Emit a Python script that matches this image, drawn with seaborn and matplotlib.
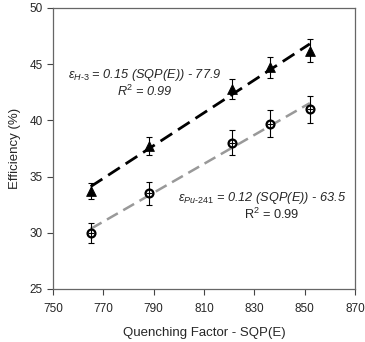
import numpy as np
import pandas as pd
import seaborn as sns
import matplotlib
matplotlib.use('Agg')
import matplotlib.pyplot as plt

# values
sqp = [765, 788, 821, 836, 852]
eff_h3 = [33.7, 37.7, 42.8, 44.7, 46.2]
err_h3 = [0.7, 0.8, 0.9, 0.9, 1.0]
eff_pu = [30.0, 33.5, 38.0, 39.7, 41.0]
err_pu = [0.9, 1.0, 1.1, 1.2, 1.2]

df = pd.DataFrame({'sqp': sqp, 'h3': eff_h3, 'pu': eff_pu})

sns.set_style('ticks')
plt.rcParams['font.family'] = ['Liberation Sans', 'DejaVu Sans']
plt.rcParams['mathtext.fontset'] = 'custom'
plt.rcParams['mathtext.rm'] = 'Liberation Sans'
plt.rcParams['mathtext.it'] = 'Liberation Sans:italic'

fig = plt.figure(figsize=(3.65, 3.42), dpi=100)
ax = fig.add_axes([0.145, 0.155, 0.828, 0.822])

# trend lines
sns.regplot(data=df, x='sqp', y='h3', ax=ax, scatter=False, ci=None,
            line_kws=dict(color='black', lw=2, ls=(0, (5, 2.5))))
sns.regplot(data=df, x='sqp', y='pu', ax=ax, scatter=False, ci=None,
            line_kws=dict(color='#999999', lw=1.8, ls=(0, (5, 2.5))))

# error bars
ax.errorbar(sqp, eff_h3, yerr=err_h3, fmt='none', ecolor='black',
            elinewidth=0.8, capsize=2, capthick=0.8, zorder=4)
ax.errorbar(sqp, eff_pu, yerr=err_pu, fmt='none', ecolor='black',
            elinewidth=0.8, capsize=2, capthick=0.8, zorder=6)

# markers
sns.scatterplot(data=df, x='sqp', y='h3', ax=ax, marker='^', color='black',
                s=50, edgecolor='black', zorder=5)
sns.scatterplot(data=df, x='sqp', y='pu', ax=ax, marker='o', color='white',
                s=32, edgecolor='black', linewidth=1.6, zorder=5)
sns.scatterplot(data=df, x='sqp', y='pu', ax=ax, marker='_', color='black',
                s=14, linewidth=0.8, zorder=6)

ax.set_xlim(750, 870)
ax.set_ylim(25, 50)
ax.set_xticks(range(750, 871, 20))
ax.set_yticks(range(25, 51, 5))
ax.set_xlabel('Quenching Factor - SQP(E)', fontsize=9.5, labelpad=9)
ax.set_ylabel('Efficiency (%)', fontsize=9.5, labelpad=6)
ax.tick_params(labelsize=8.5, length=4, width=0.8, color='#444444', direction='out')
ax.tick_params(axis='x', pad=6)
for sp in ax.spines.values():
    sp.set_visible(True)
    sp.set_color('#666666')
    sp.set_linewidth(0.9)

# equations
ax.text(786.5, 44.0, r'$ε_{H\text{-}3}$ = 0.15 (SQP(E)) - 77.9',
        ha='center', va='center', fontsize=9.2, style='italic')
ax.text(786.5, 42.55, 'R$^2$ = 0.99', ha='center', va='center', fontsize=9.2, style='italic')
ax.text(833, 33.1, r'$ε_{Pu\text{-}241}$ = 0.12 (SQP(E)) - 63.5',
        ha='center', va='center', fontsize=9.2, style='italic')
ax.text(837, 31.65, 'R$^2$ = 0.99', ha='center', va='center', fontsize=9.2)

fig.savefig('out.png', dpi=100)
